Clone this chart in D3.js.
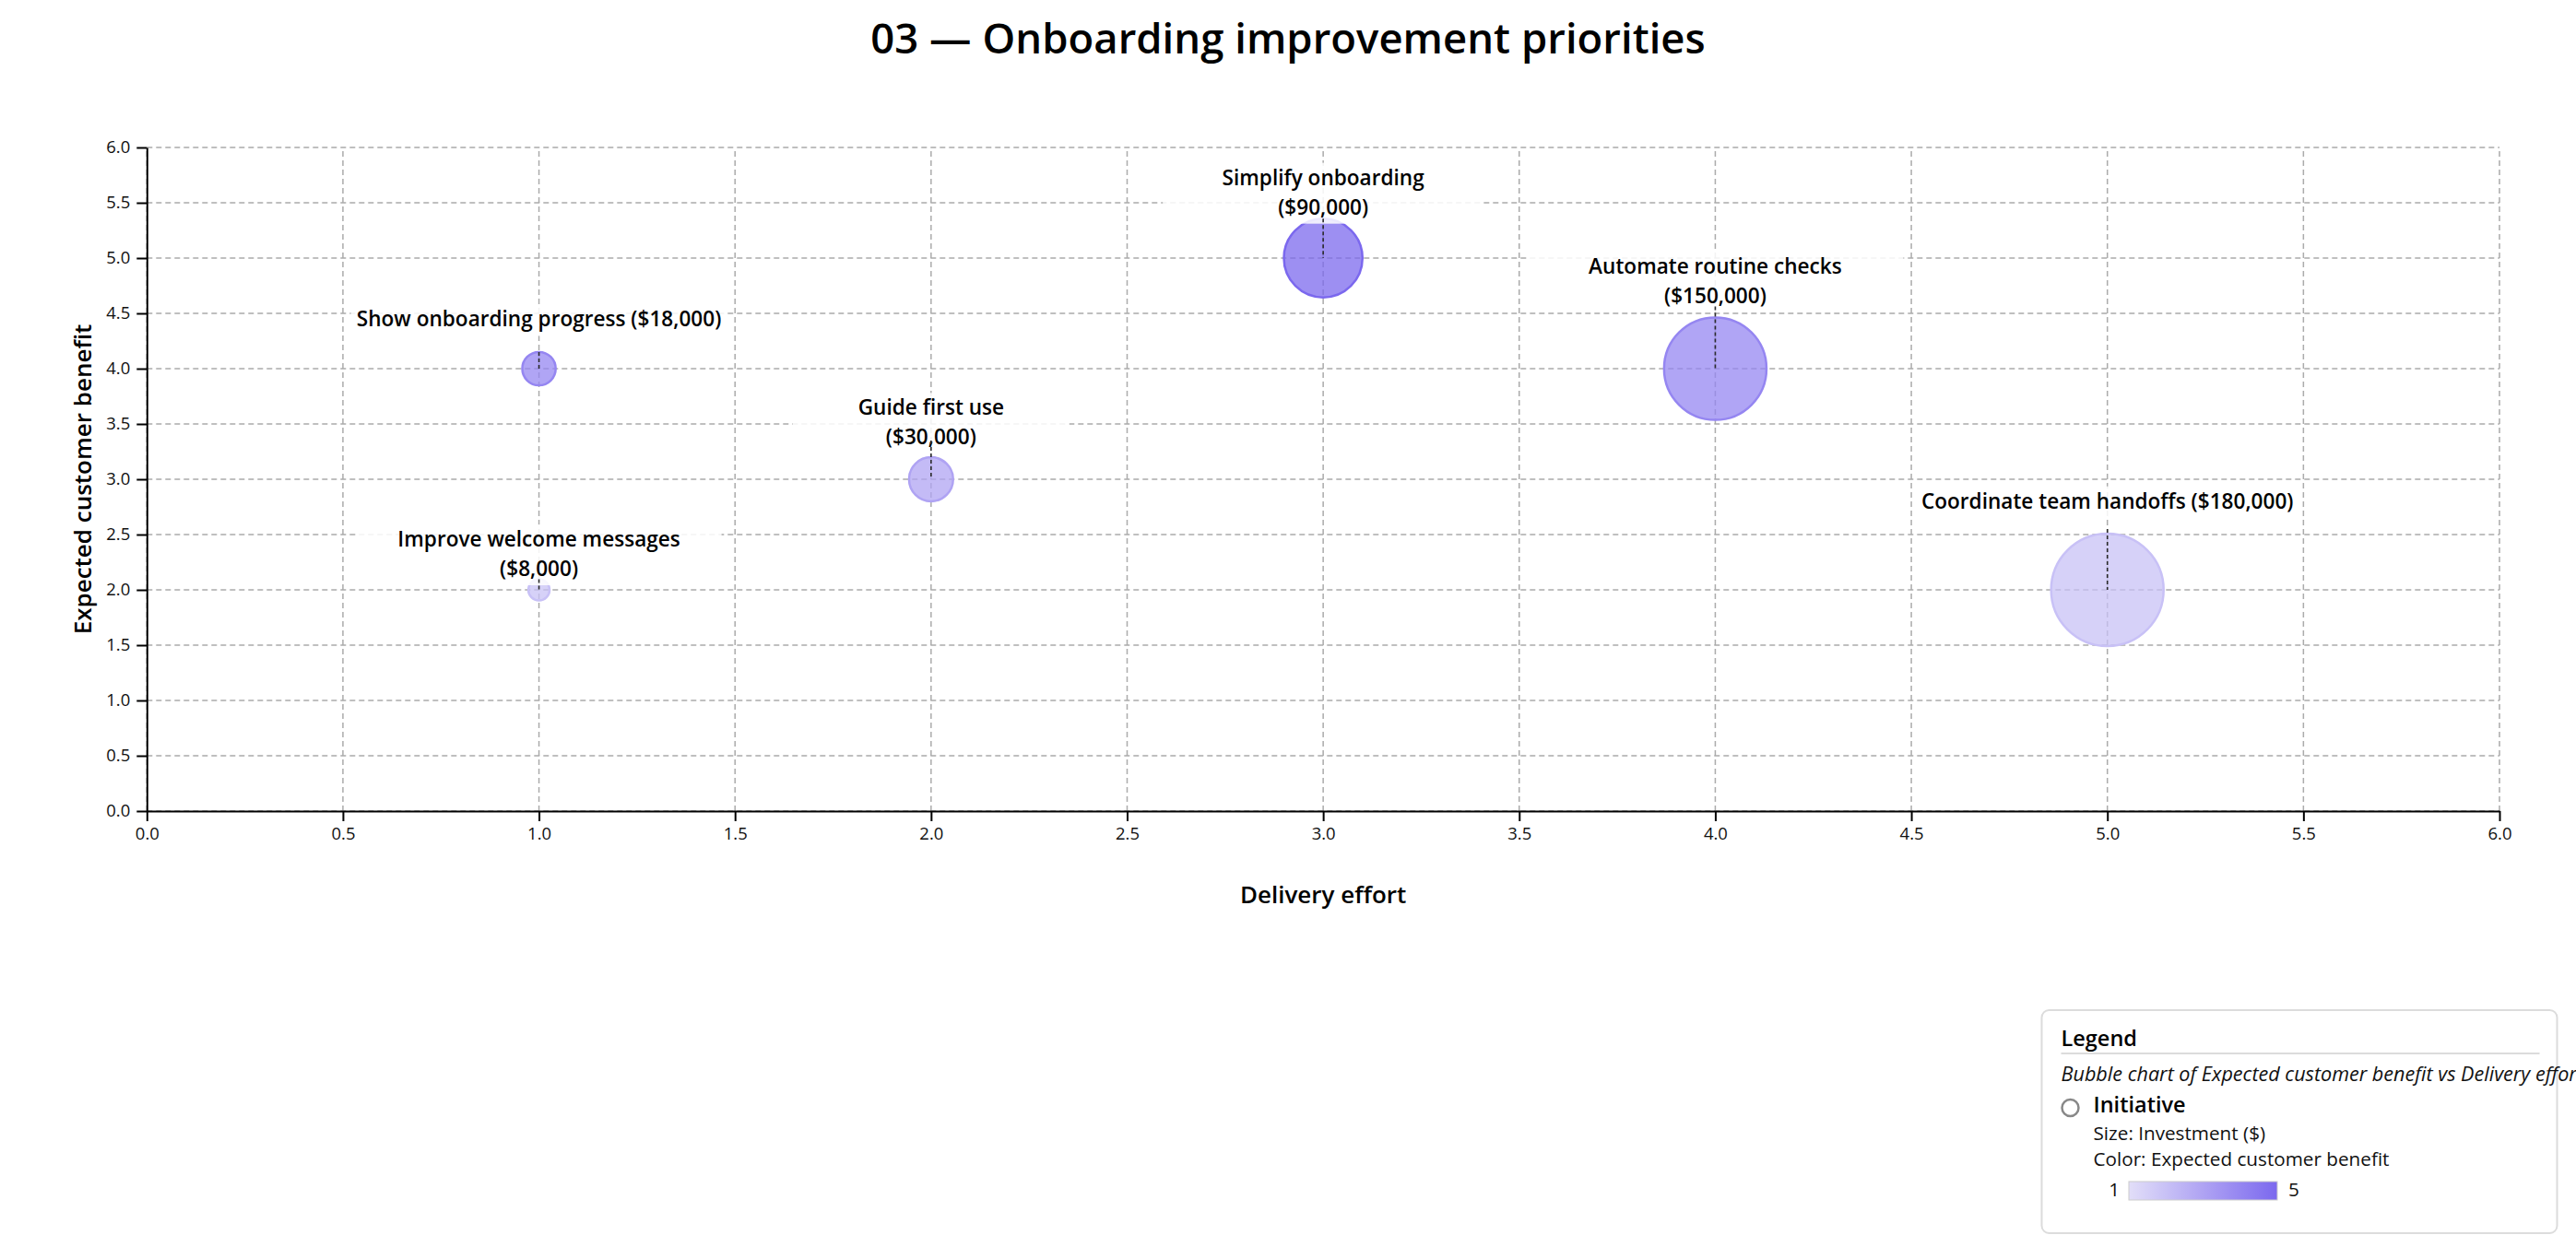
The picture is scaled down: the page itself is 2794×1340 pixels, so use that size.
<!DOCTYPE html>
<html><head><meta charset="utf-8">
<script src="https://cdn.jsdelivr.net/npm/d3@7"></script>
<style>
html,body{margin:0;padding:0;background:#fff;overflow:hidden}
svg{display:block;font-family:"Segoe UI","Open Sans","Noto Sans",sans-serif}
</style></head><body>
<svg id="chart" width="2794" height="1340"></svg>
<script>
// ---- data ----
const initiatives = ["Improve welcome messages","Show onboarding progress","Guide first use","Simplify onboarding","Automate routine checks","Coordinate team handoffs"];
const effort = [1, 1, 2, 3, 4, 5];
const benefit = [2, 4, 3, 5, 4, 2];
const investment = [8000, 18000, 30000, 90000, 150000, 180000];
const wrapLabel = [true, false, true, true, true, false];
const xTickValues = [0,0.5,1,1.5,2,2.5,3,3.5,4,4.5,5,5.5,6];
const yTickValues = [0,0.5,1,1.5,2,2.5,3,3.5,4,4.5,5,5.5,6];
const colorLegendTicks = [1, 5];

// ---- layout (label placement nudges, px) ----
const labelGap = [3.5, 27.4, 13.8, 4.7, 15.8, 27.3];
const leaderGap = [0, 0, 18, 0, 12, 5];

const W = 2794, H = 1340;
const margin = {left:159.3, right:83, top:160, bottom:460};
const svg = d3.select("#chart");

const x = d3.scaleLinear().domain([0,6]).range([margin.left, W - margin.right]);
const y = d3.scaleLinear().domain([0,6]).range([H - margin.bottom, margin.top]);
const r = d3.scaleSqrt().domain(d3.extent(investment)).range([11.5, 61]);
const color = d3.scaleLinear().domain([1,5]).range(["#e2def8","#7b68ee"]);
const fmtMoney = d3.format("$,");

// title
svg.append("text").attr("x", W/2).attr("y", 58).attr("text-anchor","middle")
  .style("font-size","45.5px").style("font-weight",600).attr("fill","#000")
  .text("03 \u2014 Onboarding improvement priorities");

// grid
const grid = svg.append("g").attr("stroke","#ababab").attr("stroke-width",1.5).attr("stroke-dasharray","6,4");
grid.selectAll("line.v").data(xTickValues).join("line").attr("class","v")
  .attr("x1", d=>x(d)).attr("x2", d=>x(d)).attr("y1", y(0)).attr("y2", y(6));
grid.selectAll("line.h").data(yTickValues).join("line").attr("class","h")
  .attr("y1", d=>y(d)).attr("y2", d=>y(d)).attr("x1", x(0)).attr("x2", x(6));

// axes
const xAxis = svg.append("g").attr("transform",`translate(0,${y(0)})`)
  .call(d3.axisBottom(x).tickValues(xTickValues).tickFormat(d3.format(".1f")).tickSize(11).tickSizeOuter(0).tickPadding(7));
const yAxis = svg.append("g").attr("transform",`translate(${x(0)},0)`)
  .call(d3.axisLeft(y).tickValues(yTickValues).tickFormat(d3.format(".1f")).tickSize(11).tickSizeOuter(0).tickPadding(7));
[xAxis, yAxis].forEach(a => {
  a.select(".domain").attr("stroke","#000").attr("stroke-width",2);
  a.selectAll(".tick line").attr("stroke","#000").attr("stroke-width",2);
  a.selectAll(".tick text").style("font-size","18.5px").style("font-family","'Segoe UI','Open Sans',sans-serif").attr("fill","#111");
});

// axis titles
svg.append("text").attr("x", (x(0)+x(6))/2).attr("y", 980).attr("text-anchor","middle")
  .style("font-size","26px").style("font-weight",600).text("Delivery effort");
svg.append("text").attr("transform",`translate(99,${(y(0)+y(6))/2}) rotate(-90)`).attr("text-anchor","middle")
  .style("font-size","26px").style("font-weight",600).text("Expected customer benefit");

// bubbles
const pts = initiatives.map((name,i)=>({name, ex:effort[i], be:benefit[i], inv:investment[i], wrap:wrapLabel[i], gap:labelGap[i], lgap:leaderGap[i]}));
svg.append("g").selectAll("circle").data(pts).join("circle")
  .attr("cx", d=>x(d.ex)).attr("cy", d=>y(d.be)).attr("r", d=>r(d.inv))
  .attr("fill", d=>color(d.be)).attr("fill-opacity",0.74)
  .attr("stroke", d=>color(d.be)).attr("stroke-width",2.5);

// labels
const lineH = 32;
const lab = svg.append("g").selectAll("g").data(pts).join("g");
lab.each(function(d){
  const g = d3.select(this);
  const cx = x(d.ex), cy = y(d.be), top = cy - r(d.inv);
  const lines = d.wrap ? [d.name, `(${fmtMoney(d.inv)})`] : [`${d.name} (${fmtMoney(d.inv)})`];
  const full = `${d.name} (${fmtMoney(d.inv)})`;
  const lastBase = top - d.gap;
  const firstBase = lastBase - (lines.length-1)*lineH;
  const rw = full.length * 12;
  g.append("rect").attr("x", cx - rw/2).attr("y", firstBase - 24).attr("width", rw)
    .attr("height", lastBase - firstBase + 34).attr("fill","#fff").attr("fill-opacity",0.85);
  lines.forEach((t,k)=>{
    g.append("text").attr("x", cx).attr("y", firstBase + k*lineH).attr("text-anchor","middle")
      .style("font-size","22.6px").style("font-weight",600).attr("fill","#000").text(t);
  });
  g.append("line").attr("x1", cx).attr("x2", cx).attr("y1", top - d.lgap).attr("y2", cy)
    .attr("stroke","#2a2a2a").attr("stroke-width",1.6).attr("stroke-dasharray","4,3");
});

// legend
const L = svg.append("g").attr("transform","translate(2214.5,1096)");
L.append("rect").attr("width",559).attr("height",242).attr("rx",8)
  .attr("fill","#fff").attr("stroke","#dcdcdc").attr("stroke-width",2);
L.append("text").attr("x",21).attr("y",39).style("font-size","23.5px").style("font-weight",600).text("Legend");
L.append("line").attr("x1",21).attr("x2",540).attr("y1",47).attr("y2",47).attr("stroke","#dcdcdc").attr("stroke-width",2);
L.append("text").attr("x",21).attr("y",77).style("font-size","21.6px").style("font-style","italic").attr("fill","#111")
  .text("Bubble chart of Expected customer benefit vs Delivery effort");
L.append("circle").attr("cx",31).attr("cy",106).attr("r",9).attr("fill","#fff").attr("stroke","#888").attr("stroke-width",2.5);
L.append("text").attr("x",56).attr("y",111).style("font-size","23.5px").style("font-weight",600).text("Initiative");
L.append("text").attr("x",56).attr("y",141).style("font-size","20.7px").attr("fill","#111").text("Size: Investment ($)");
L.append("text").attr("x",56).attr("y",169).style("font-size","20.7px").attr("fill","#111").text("Color: Expected customer benefit");
const defs = svg.append("defs");
const grad = defs.append("linearGradient").attr("id","cgrad");
grad.selectAll("stop").data(d3.range(0,1.01,0.25)).join("stop")
  .attr("offset", t=>t).attr("stop-color", t=>color(1 + t*4));
const gw = 161, gx = 94.5, gy = 186;
L.append("rect").attr("x",gx).attr("y",gy).attr("width",gw).attr("height",20).attr("fill","url(#cgrad)").attr("stroke","#ccc").attr("stroke-width",1);
const legScale = d3.scaleLinear().domain([1,5]).range([gx, gx+gw]);
L.selectAll("text.ct").data(colorLegendTicks).join("text").attr("class","ct")
  .attr("x", d => d===1 ? legScale(d) - 10 : legScale(d) + 12)
  .attr("y", gy+16).attr("text-anchor", d => d===1 ? "end" : "start")
  .style("font-size","20.7px").attr("fill","#111").text(d=>d);
</script>
</body></html>
